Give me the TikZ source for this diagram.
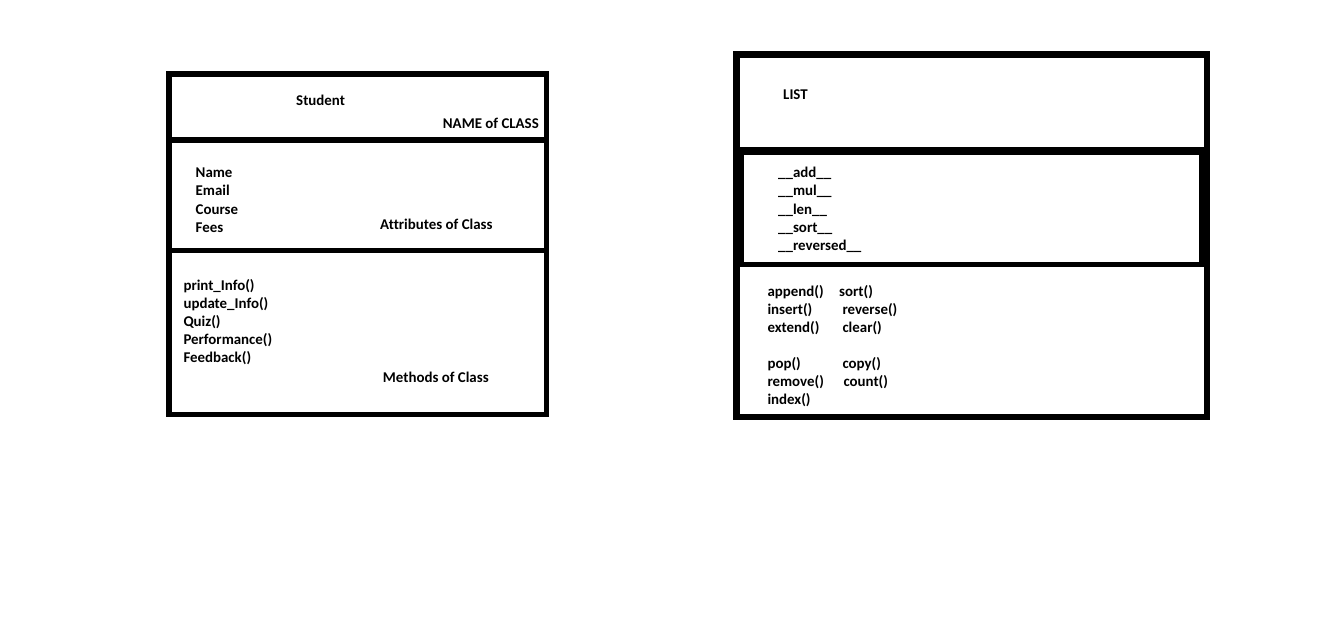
\documentclass[tikz,border=0pt]{standalone}
\usepackage{fontspec}
\setmainfont{Carlito}[Ligatures=NoCommon]
\usepackage{tikz}

\begin{document}
\begin{tikzpicture}[x=1pt,y=-1pt]
		\useasboundingbox (0,0) rectangle (1339,623);

		% Student class
		\begin{scope}[every path/.style={draw=black,line width=5.5pt}]
			\draw (169,74) rectangle (546.5,414.5);
			\draw (169,140) -- (546.5,140);
			\draw (169,250.5) -- (546.5,250.5);
		\end{scope}

		% List class
		\draw [line width=6.5pt] (736.5,54.7) rectangle (1207,417);
		\draw [line width=4pt] (736.5,148.7) -- (1207,148.7);
		\draw [line width=5pt] (741.5,153) rectangle (1201.5,264.5);

		\begin{scope}[every node/.style={anchor=base west,inner sep=0pt,
					  font=\bfseries\fontsize{14.9}{18}\selectfont}]
			\node (s0) at (296,105.5) {Student};
			\node (s1) at (442.7,128.5) {NAME of CLASS};

			\node (a1) at (195.5,178) {Name};
			\node (a2) at (195.5,196) {Email};
			\node (a3) at (195.5,214) {Course};
			\node (a4) at (195.5,232) {Fees};
			\node (a5) at (380,229.5) {Attributes of Class};

			\node (m1) at (183.3,290) {print\_Info()};
			\node (m2) at (183.3,308) {update\_Info()};
			\node (m3) at (183.3,326) {Quiz()};
			\node (m4) at (183.3,344) {Performance()};
			\node (m5) at (183.3,362) {Feedback()};
			\node (m6) at (382.7,382) {Methods of Class};

			\node (l0) at (783,99.5) {LIST};

			\node (d1) at (778,178) {\_\_add\_\_};
			\node (d2) at (778,196) {\_\_mul\_\_};
			\node (d3) at (778,214) {\_\_len\_\_};
			\node (d4) at (778,232) {\_\_sort\_\_};
			\node (d5) at (778,250) {\_\_reversed\_\_};

			\node (f1) at (767.3,296) {append()};
			\node (f2) at (767.3,314) {insert()};
			\node (f3) at (767.3,332) {extend()};
			\node (f4) at (767.3,368) {pop()};
			\node (f5) at (767.3,386) {remove()};
			\node (f6) at (767.3,404) {index()};

			\node (g1) at (839,296) {sort()};
			\node (g2) at (842.3,314) {reverse()};
			\node (g3) at (842.3,332) {clear()};
			\node (g4) at (842.3,368) {copy()};
			\node (g5) at (843.3,386) {count()};
		\end{scope}
		\end{tikzpicture}
\end{document}
